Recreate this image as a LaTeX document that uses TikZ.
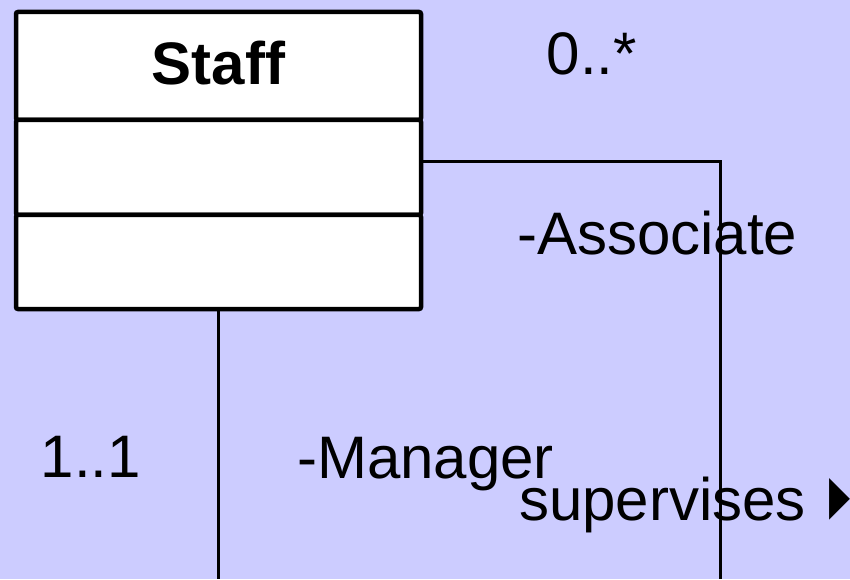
\documentclass[tikz,border=0pt]{standalone}
\usepackage{fontspec}
\setmainfont{Liberation Sans}
\setsansfont{Liberation Sans}
\newfontfamily\symfont{DejaVu Sans}
\usetikzlibrary{positioning}
\definecolor{umlbg}{HTML}{CCCCFF}
\newcommand{\umlarrow}{{\symfont\raisebox{7pt}{\resizebox{21pt}{35pt}{▶}}}}

\begin{document}
\begin{tikzpicture}[x=1pt, y=1pt, font=\fontsize{60}{72}\selectfont\sffamily,
  classbox/.style={draw, line width=4.5pt, fill=white, rounded corners=2pt, minimum width=405pt, inner sep=0pt, outer sep=0pt},
  assoc/.style={draw, line width=3pt},
  lbl/.style={inner sep=0pt, anchor=base west}]
\fill[umlbg] (0,0) rectangle (850,579);
\useasboundingbox (0,0) rectangle (850,579);

% class Staff
\node[classbox, minimum height=108pt, text depth=6pt, font=\fontsize{60}{72}\selectfont\bfseries] (staff) at (218.5,513) {Staff};
\node[classbox, minimum height=95pt, below=0pt of staff] (attr) {};
\node[classbox, minimum height=94pt, below=0pt of attr] (ops) {};

% self association
\coordinate (assocend) at (720,0);
\coordinate (mgrend) at (219,0);
\draw[assoc] ([yshift=6pt]attr.east) -| (assocend);
\draw[assoc, line width=3.5pt] (ops.south) -- (ops.south |- mgrend);

% ends and name
\node[lbl] (multassoc) at (546.5,504) {0..*};
\node[lbl] (roleassoc) at (517,324) {-Associate};
\node[lbl] (multmgr) at (40.5,102) {1..1};
\node[lbl] (rolemgr) at (297,101) {-Manager};
\node[lbl] (assocname) at (519,59) {supervises\hspace{24pt}\umlarrow};
\end{tikzpicture}
\end{document}
